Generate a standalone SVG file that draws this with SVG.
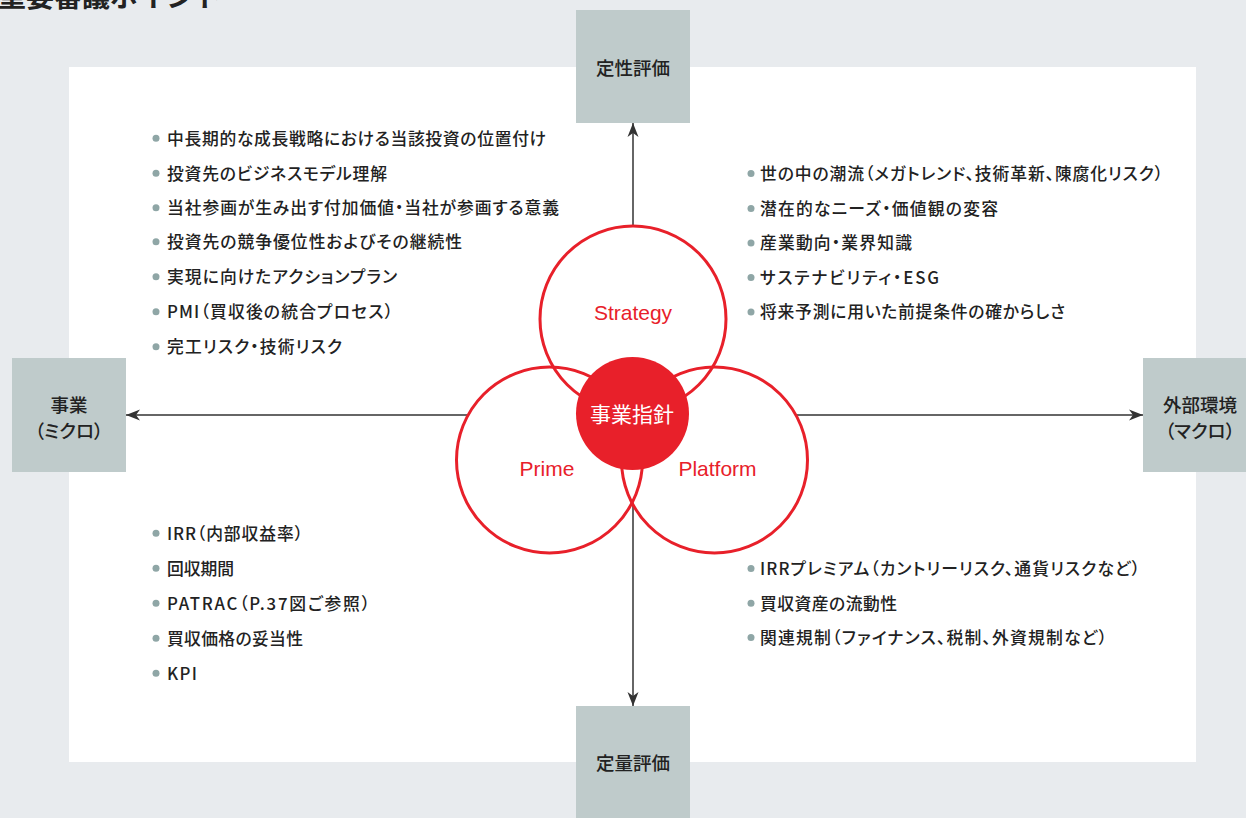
<svg xmlns="http://www.w3.org/2000/svg" width="1246" height="818" viewBox="0 0 1246 818">
<defs>
<style>
text{font-family:"Noto Sans CJK JP","Noto Sans",sans-serif;font-feature-settings:"palt";}
.title{font-size:28px;font-weight:700;fill:#222;font-feature-settings:normal;}
.box{fill:#bfcbcb;}
.boxt{font-size:18.5px;font-weight:500;fill:#222;text-anchor:middle;}
.item{font-size:16.8px;font-weight:500;fill:#222;}
.dot{fill:#8fa6a6;}
.ring{fill:none;stroke:#e8202a;stroke-width:3;}
.lbl{font-family:"Liberation Sans",Arial,sans-serif;font-size:21px;fill:#e8202a;text-anchor:middle;}
.ctr{font-size:21px;fill:#fff;text-anchor:middle;}
.conn{stroke:#333;stroke-width:1.5;fill:none;marker-end:url(#ah);}
</style>
<marker id="ah" markerUnits="userSpaceOnUse" markerWidth="16" markerHeight="14" refX="14" refY="6" orient="auto" viewBox="0 0 16 12">
<path d="M14,6 L0,0.5 L4,6 L0,11.5 Z" fill="#333"/>
</marker>
</defs>
<rect width="1246" height="818" fill="#e8ebee"/>
<rect x="69" y="67" width="1127" height="695" fill="#fff"/>
<text class="title" x="-2" y="7">重要審議ポイント</text>

<g id="connectors">
<line class="conn" x1="633" y1="226" x2="633" y2="123"/>
<line class="conn" x1="633" y1="503" x2="633" y2="706"/>
<line class="conn" x1="468" y1="415" x2="126" y2="415"/>
<line class="conn" x1="797" y1="415" x2="1143" y2="415"/>
</g>

<g id="node-top">
<rect class="box" x="576" y="10" width="114" height="113"/>
<text class="boxt" x="633" y="75">定性評価</text>
</g>
<g id="node-bottom">
<rect class="box" x="576" y="706" width="114" height="114"/>
<text class="boxt" x="633" y="770">定量評価</text>
</g>
<g id="node-left">
<rect class="box" x="12" y="358" width="114" height="114"/>
<text class="boxt" x="69" y="412">事業</text>
<text class="boxt" x="69" y="438">（ミクロ）</text>
</g>
<g id="node-right">
<rect class="box" x="1143" y="358" width="114" height="114"/>
<text class="boxt" x="1200" y="412">外部環境</text>
<text class="boxt" x="1200" y="438">（マクロ）</text>
</g>

<g id="node-strategy">
<circle class="ring" cx="633" cy="319" r="93"/>
<text class="lbl" x="633" y="319.5">Strategy</text>
</g>
<g id="node-prime">
<circle class="ring" cx="549.5" cy="460" r="93"/>
<text class="lbl" x="547" y="476">Prime</text>
</g>
<g id="node-platform">
<circle class="ring" cx="714.5" cy="460" r="93"/>
<text class="lbl" x="717.5" y="476">Platform</text>
</g>
<g id="node-center">
<circle cx="632.5" cy="413.5" r="56.5" fill="#e8202a"/>
<text class="ctr" x="632" y="421.5">事業指針</text>
</g>

<g id="list-top-left">
<circle class="dot" cx="156" cy="138.3" r="3.5"/><text class="item" x="167" y="144.6" textLength="379" lengthAdjust="spacing">中長期的な成長戦略における当該投資の位置付け</text>
<circle class="dot" cx="156" cy="173.3" r="3.5"/><text class="item" x="167" y="179.6" textLength="220" lengthAdjust="spacing">投資先のビジネスモデル理解</text>
<circle class="dot" cx="156" cy="207.7" r="3.5"/><text class="item" x="167" y="214" textLength="392" lengthAdjust="spacing">当社参画が生み出す付加価値・当社が参画する意義</text>
<circle class="dot" cx="156" cy="241.7" r="3.5"/><text class="item" x="167" y="248" textLength="295" lengthAdjust="spacing">投資先の競争優位性およびその継続性</text>
<circle class="dot" cx="156" cy="276.7" r="3.5"/><text class="item" x="167" y="283" textLength="230" lengthAdjust="spacing">実現に向けたアクションプラン</text>
<circle class="dot" cx="156" cy="311.7" r="3.5"/><text class="item" x="167" y="318" textLength="226" lengthAdjust="spacing">PMI（買収後の統合プロセス）</text>
<circle class="dot" cx="156" cy="346.7" r="3.5"/><text class="item" x="167" y="353" textLength="175" lengthAdjust="spacing">完工リスク・技術リスク</text>
</g>

<g id="list-top-right">
<circle class="dot" cx="751" cy="173.5" r="3.5"/><text class="item" x="760" y="179.8" textLength="403" lengthAdjust="spacing">世の中の潮流（メガトレンド、技術革新、陳腐化リスク）</text>
<circle class="dot" cx="751" cy="208.5" r="3.5"/><text class="item" x="760" y="214.8" textLength="238" lengthAdjust="spacing">潜在的なニーズ・価値観の変容</text>
<circle class="dot" cx="751" cy="243" r="3.5"/><text class="item" x="760" y="249.3" textLength="152" lengthAdjust="spacing">産業動向・業界知識</text>
<circle class="dot" cx="751" cy="277.5" r="3.5"/><text class="item" x="760" y="283.8" textLength="179" lengthAdjust="spacing">サステナビリティ・ESG</text>
<circle class="dot" cx="751" cy="312" r="3.5"/><text class="item" x="760" y="318.3" textLength="305" lengthAdjust="spacing">将来予測に用いた前提条件の確からしさ</text>
</g>

<g id="list-bottom-left">
<circle class="dot" cx="156" cy="533.3" r="3.5"/><text class="item" x="167" y="539.6" textLength="136" lengthAdjust="spacing">IRR（内部収益率）</text>
<circle class="dot" cx="156" cy="568.3" r="3.5"/><text class="item" x="167" y="574.6" textLength="67" lengthAdjust="spacing">回収期間</text>
<circle class="dot" cx="156" cy="603.3" r="3.5"/><text class="item" x="167" y="609.6" textLength="203" lengthAdjust="spacing">PATRAC（P.37図ご参照）</text>
<circle class="dot" cx="156" cy="638.3" r="3.5"/><text class="item" x="167" y="644.6" textLength="136" lengthAdjust="spacing">買収価格の妥当性</text>
<circle class="dot" cx="156" cy="673.3" r="3.5"/><text class="item" x="167" y="679.6" textLength="30" lengthAdjust="spacing">KPI</text>
</g>

<g id="list-bottom-right">
<circle class="dot" cx="751" cy="568.5" r="3.5"/><text class="item" x="760" y="574.8" textLength="380" lengthAdjust="spacing">IRRプレミアム（カントリーリスク、通貨リスクなど）</text>
<circle class="dot" cx="751" cy="603.3" r="3.5"/><text class="item" x="760" y="609.6" textLength="137" lengthAdjust="spacing">買収資産の流動性</text>
<circle class="dot" cx="751" cy="637.5" r="3.5"/><text class="item" x="760" y="643.8" textLength="347" lengthAdjust="spacing">関連規制（ファイナンス、税制、外資規制など）</text>
</g>
</svg>
